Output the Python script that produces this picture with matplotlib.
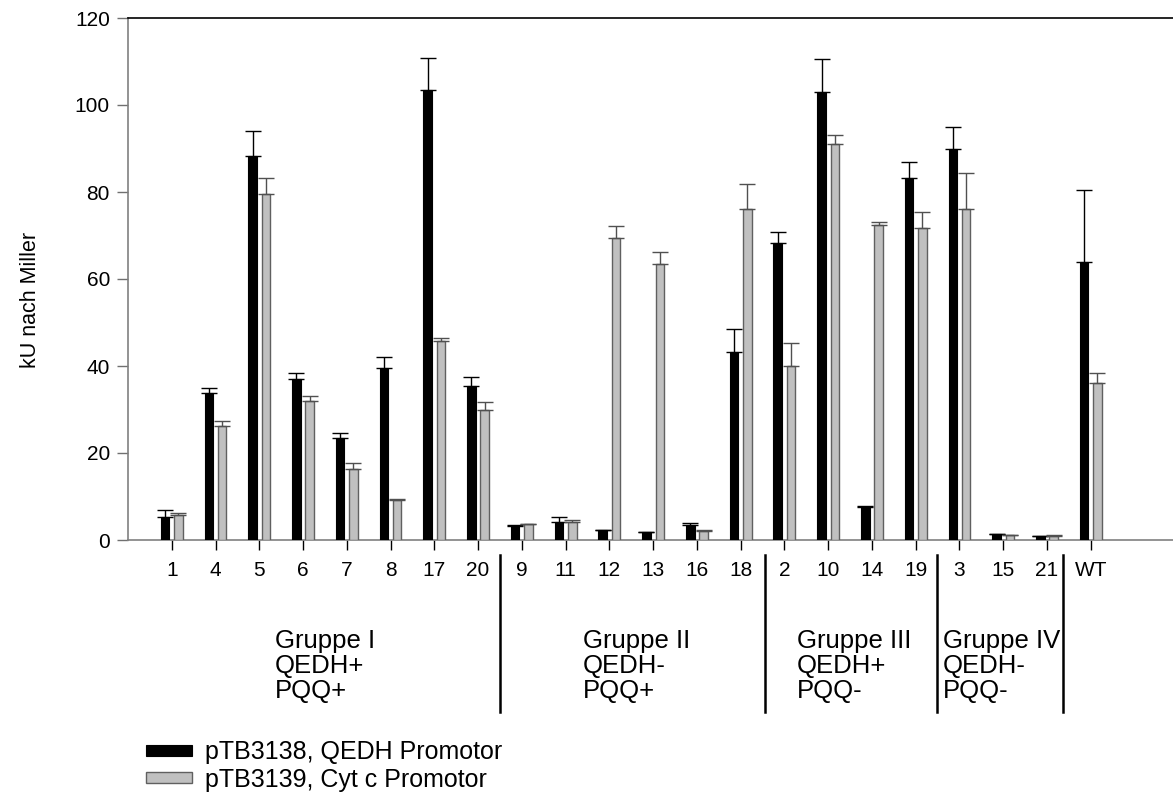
import numpy as np
import matplotlib
matplotlib.use("Agg")
import matplotlib.pyplot as plt
import matplotlib.transforms as mtransforms

plt.rcParams['font.family'] = ['Liberation Sans', 'DejaVu Sans']

# categories (strain numbers), in plotting order
labels = ['1', '4', '5', '6', '7', '8', '17', '20',
          '9', '11', '12', '13', '16', '18',
          '2', '10', '14', '19',
          '3', '15', '21',
          'WT']

# pTB3138, QEDH Promotor (black)
qedh = [5.2, 33.8, 88.3, 37.0, 23.4, 39.6, 103.4, 35.5,
        3.3, 4.1, 2.2, 1.8, 3.4, 43.2,
        68.3, 103.0, 7.7, 83.2,
        90.0, 1.3, 0.85,
        64.0]
qedh_err = [1.6, 1.2, 5.7, 1.4, 1.3, 2.4, 7.3, 2.0,
            0.2, 1.1, 0.1, 0.1, 0.4, 5.2,
            2.5, 7.5, 0.1, 3.6,
            5.0, 0.1, 0.1,
            16.5]

# pTB3139, Cyt c Promotor (grey)
cytc = [5.8, 26.3, 79.5, 32.0, 16.4, 9.1, 45.8, 30.0,
        3.6, 4.1, 69.5, 63.5, 2.1, 76.0,
        40.0, 91.0, 72.3, 71.8,
        76.0, 1.15, 1.0,
        36.0]
cytc_err = [0.5, 1.0, 3.8, 1.2, 1.2, 0.3, 0.6, 1.8,
            0.1, 0.6, 2.7, 2.8, 0.1, 5.8,
            5.3, 2.0, 0.7, 3.5,
            8.3, 0.1, 0.1,
            2.5]

groups = ["Gruppe I\nQEDH+\nPQQ+", "Gruppe II\nQEDH-\nPQQ+",
          "Gruppe III\nQEDH+\nPQQ-", "Gruppe IV\nQEDH-\nPQQ-"]
group_text_x = [2.36, 9.4, 14.29, 17.62]
dividers = [7.5, 13.56, 17.49, 20.37]

W, H = 1173, 802
fig = plt.figure(figsize=(W / 100, H / 100), dpi=100)
ax = fig.add_axes([128 / W, 1 - 540 / H, 1 - 128 / W, (540 - 18) / H])

x = np.arange(len(labels))
bw = 0.195
off = 0.152

b1 = ax.bar(x - off, qedh, bw, color='black', edgecolor='black', linewidth=0.8,
            yerr=[np.zeros(len(x)), qedh_err], capsize=5.8,
            error_kw=dict(ecolor='black', elinewidth=1.0, capthick=1.0),
            label='pTB3138, QEDH Promotor', zorder=3)
b2 = ax.bar(x + off, cytc, bw, color='#c0c0c0', edgecolor='#606060', linewidth=1.0,
            yerr=[np.zeros(len(x)), cytc_err], capsize=5.8,
            error_kw=dict(ecolor='#505050', elinewidth=1.0, capthick=1.0),
            label='pTB3139, Cyt c Promotor', zorder=3)

ax.set_xlim(-1, 22.88)
ax.set_ylim(0, 120)
ax.set_yticks(range(0, 121, 20))
ax.set_xticks(x)
ax.set_xticklabels(labels)
ax.tick_params(axis='y', direction='out', length=8, width=1, colors='#707070',
               labelcolor='black', labelsize=15, pad=5)
ax.tick_params(axis='x', direction='out', length=7, width=1, colors='black',
               labelsize=15, pad=8)

for s in ['left', 'bottom']:
    ax.spines[s].set_color('#808080')
    ax.spines[s].set_linewidth(1.2)
ax.spines['right'].set_visible(False)
ax.spines['top'].set_color('black')
ax.spines['top'].set_linewidth(1.2)

fig.text(30 / W, 1 - 300 / H, 'kU nach Miller', rotation=90, ha='center',
         va='center', fontsize=15.5)

# group separators and labels below the axis
trans = mtransforms.blended_transform_factory(ax.transData, fig.transFigure)
for d in dividers:
    ax.plot([d, d], [1 - 555 / H, 1 - 712 / H], color='black', lw=1.8,
            transform=trans, clip_on=False)
for gx, gt in zip(group_text_x, groups):
    ax.text(gx, 1 - 629 / H, gt, transform=trans, ha='left', va='top',
            fontsize=18.5, linespacing=1.05)

fig.legend(handles=[b1, b2], loc='upper left',
           bbox_to_anchor=(146 / W, 1 - 740 / H), frameon=False,
           fontsize=18, handlelength=1.85, handleheight=0.3,
           handletextpad=0.5, labelspacing=0.15, borderaxespad=0,
           borderpad=0)

fig.savefig('out.png', dpi=100)
